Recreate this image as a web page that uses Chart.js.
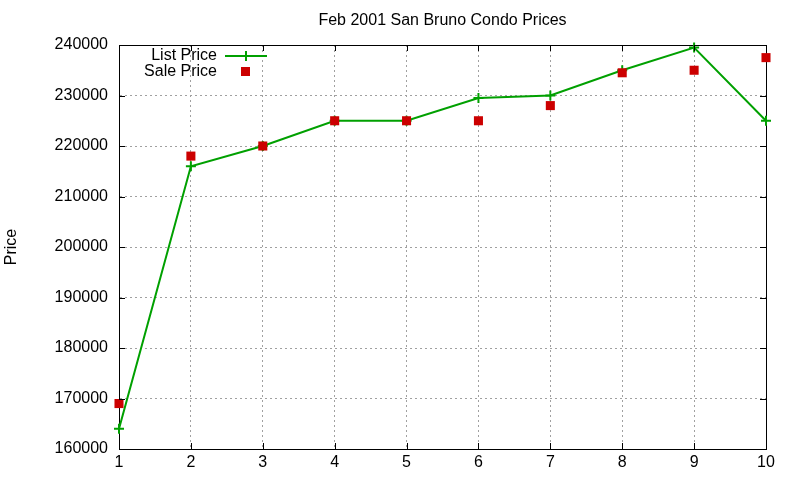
<!DOCTYPE html>
<html lang="en">
  <head>
    <meta charset="utf-8" />
    <title>Feb 2001 San Bruno Condo Prices</title>
    <style>
      * {
        margin: 0;
        padding: 0;
      }
      body {
        background: white;
      }
    </style>
  </head>
  <body>
    <canvas id="myChart" width="800" height="480"></canvas>

    <script src="https://cdn.jsdelivr.net/npm/chart.js"></script>
    <script>
      // data
      const houses = [1, 2, 3, 4, 5, 6, 7, 8, 9, 10];
      const listPrice = [164000, 216000, 220000, 225000, 225000, 229500, 230000, 235000, 239500, 225000];
      const salePrice = [169000, 218000, 220000, 225000, 225000, 225000, 228000, 234500, 235000, 237500];
      const yTicks = [160000, 170000, 180000, 190000, 200000, 210000, 220000, 230000, 240000];

      const FONT_FAMILY = '"Liberation Sans", Arial, sans-serif';
      const FONT = "16px " + FONT_FAMILY;
      const GREEN = "#00a000";
      const RED = "#cc0000";

      const toPoints = (ys) => houses.map((x, i) => ({ x: x, y: ys[i] }));

      // gnuplot-like extras: title, rotated y label, inward ticks, key
      const gnuplotFrame = {
        id: "gnuplotFrame",
        afterDraw(chart) {
          const { ctx, chartArea: a, scales: { x, y } } = chart;
          ctx.save();
          ctx.font = FONT;
          ctx.fillStyle = "#000";
          ctx.textBaseline = "middle";

          // title
          ctx.textAlign = "center";
          ctx.fillText("Feb 2001 San Bruno Condo Prices", (a.left + a.right) / 2, 21);

          // y label
          ctx.save();
          ctx.translate(12, (a.top + a.bottom) / 2);
          ctx.rotate(-Math.PI / 2);
          ctx.fillText("Price", 0, 0);
          ctx.restore();

          // inward ticks on all four sides
          ctx.strokeStyle = "#000";
          ctx.lineWidth = 1;
          ctx.beginPath();
          houses.forEach((v) => {
            const px = Math.round(x.getPixelForValue(v)) + 0.5;
            ctx.moveTo(px, a.bottom);
            ctx.lineTo(px, a.bottom - 6);
            ctx.moveTo(px, a.top);
            ctx.lineTo(px, a.top + 6);
          });
          yTicks.forEach((v) => {
            const py = Math.round(y.getPixelForValue(v)) + 0.5;
            ctx.moveTo(a.left, py);
            ctx.lineTo(a.left + 6, py);
            ctx.moveTo(a.right, py);
            ctx.lineTo(a.right - 6, py);
          });
          ctx.stroke();

          // key
          ctx.textAlign = "right";
          ctx.fillText("List Price", 217, 56);
          ctx.fillText("Sale Price", 217, 72);
          ctx.strokeStyle = GREEN;
          ctx.lineWidth = 2;
          ctx.beginPath();
          ctx.moveTo(225, 56);
          ctx.lineTo(267, 56);
          ctx.moveTo(246, 51);
          ctx.lineTo(246, 61);
          ctx.stroke();
          ctx.fillStyle = RED;
          ctx.fillRect(241, 67, 9, 9);
          ctx.restore();
        },
      };

      const config = {
        type: "line",
        data: {
          datasets: [
            {
              label: "List Price",
              data: toPoints(listPrice),
              borderColor: GREEN,
              backgroundColor: GREEN,
              borderWidth: 2,
              pointStyle: "cross",
              pointRadius: 5,
              pointBorderWidth: 2,
              pointBorderColor: GREEN,
              tension: 0,
              clip: false,
              order: 1,
            },
            {
              label: "Sale Price",
              data: toPoints(salePrice),
              showLine: false,
              pointStyle: "rect",
              pointRadius: 6.4,
              pointBorderWidth: 0,
              backgroundColor: RED,
              borderColor: RED,
              clip: false,
              order: 0,
            },
          ],
        },
        options: {
          responsive: false,
          animation: false,
          layout: {
            padding: { top: 45, right: 34, left: 0, bottom: 0 },
          },
          plugins: {
            legend: { display: false },
            title: { display: false },
            tooltip: { enabled: false },
          },
          scales: {
            x: {
              type: "linear",
              min: 1,
              max: 10,
              afterFit: (scale) => {
                scale.height = 31;
              },
              afterBuildTicks: (scale) => {
                scale.ticks = houses.map((v) => ({ value: v }));
              },
              ticks: {
                color: "#000",
                font: { family: FONT_FAMILY, size: 16 },
                padding: 4,
                callback: (v) => String(v),
              },
              grid: {
                color: "#a0a0a0",
                drawTicks: false,
              },
              // in v4 border.dash dashes the grid lines
              border: { color: "#000", width: 1, dash: [2, 3] },
            },
            y: {
              min: 160000,
              max: 240000,
              afterFit: (scale) => {
                scale.width = 119;
              },
              afterBuildTicks: (scale) => {
                scale.ticks = yTicks.map((v) => ({ value: v }));
              },
              ticks: {
                color: "#000",
                font: { family: FONT_FAMILY, size: 16 },
                padding: 11,
                callback: (v) => String(v),
              },
              grid: {
                color: "#a0a0a0",
                drawTicks: false,
              },
              border: { color: "#000", width: 1, dash: [2, 3] },
            },
          },
        },
        plugins: [
          {
            id: "box",
            beforeDatasetsDraw(chart) {
              const { ctx, chartArea: a } = chart;
              ctx.save();
              ctx.strokeStyle = "#000";
              ctx.lineWidth = 1;
              ctx.strokeRect(Math.round(a.left) + 0.5, Math.round(a.top) + 0.5, Math.round(a.right - a.left), Math.round(a.bottom - a.top));
              ctx.restore();
            },
          },
          gnuplotFrame,
        ],
      };

      new Chart(document.getElementById("myChart"), config);
    </script>
  </body>
</html>
